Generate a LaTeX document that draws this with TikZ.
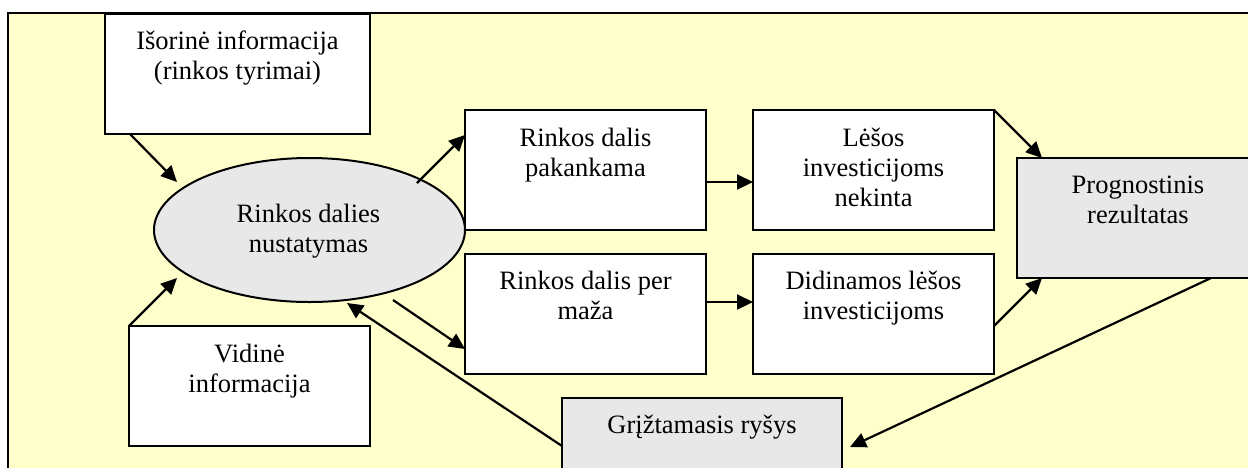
\documentclass[tikz,border=0pt]{standalone}
\usepackage{fontspec}
\setmainfont{Liberation Serif}
\usetikzlibrary{arrows.meta,calc,shapes.geometric}
\definecolor{paper}{HTML}{FFFFCC}
\definecolor{shade}{HTML}{E8E8E8}
% centred multi-line caption whose reference point is the first baseline
\newcommand\boxtxt[1]{\parbox[t]{270pt}{\centering #1}}

\begin{document}
\begin{tikzpicture}[x=1pt,y=-1pt,
  stepbox/.style={draw, line width=2pt, fill=white, minimum width=241pt,
    minimum height=120pt, anchor=north west, inner sep=0pt, outer sep=0pt},
  greybox/.style={stepbox, fill=shade},
  caption/.style={anchor=base, inner sep=0pt,
    font=\fontsize{26.5}{30}\selectfont},
  conn/.style={line width=2.2pt, -{Triangle[length=16pt,width=15pt]}}
]
\useasboundingbox (0,0) rectangle (1248,467);
\clip (0,0) rectangle (1248,467);

% page background and frame
\fill[paper] (8,13) rectangle (1270,490);
\draw[line width=2.5pt] (8,490) -- (8,13) -- (1270,13);

% boxes
\node[stepbox, minimum width=265pt] (isor) at (105,14) {};
\node[stepbox] (vid) at (129,326) {};
\node[ellipse, draw, line width=2pt, fill=shade, minimum width=311pt,
  minimum height=144pt, inner sep=0pt, outer sep=0pt] (ell) at (309.5,230) {};
\node[stepbox] (pak) at (465,110) {};
\node[stepbox] (maz) at (465,254) {};
\node[stepbox] (les) at (753,110) {};
\node[stepbox] (did) at (753,254) {};
\node[greybox, minimum width=242pt] (prog) at (1017,158) {};
\node[greybox, minimum width=280pt] (grz) at (562,398) {};

% captions
\node[caption] (isort) at ($(isor.north)+(0,35)$) {\boxtxt{Išorinė informacija\\(rinkos tyrimai)}};
\node[caption] (vidt) at ($(vid.north)+(0,36)$) {\boxtxt{Vidinė\\informacija}};
\node[caption] (ellt) at ($(ell.center)+(-1,-8)$) {\boxtxt{Rinkos dalies\\nustatymas}};
\node[caption] (pakt) at ($(pak.north)+(0,36)$) {\boxtxt{Rinkos dalis\\pakankama}};
\node[caption] (mazt) at ($(maz.north)+(0,35)$) {\boxtxt{Rinkos dalis per\\maža}};
\node[caption] (lest) at ($(les.north)+(0,36)$) {\boxtxt{Lėšos\\investicijoms\\nekinta}};
\node[caption] (didt) at ($(did.north)+(0,35)$) {\boxtxt{Didinamos lėšos\\investicijoms}};
\node[caption] (progt) at ($(prog.north)+(0,35)$) {\boxtxt{Prognostinis\\rezultatas}};
\node[caption] (grzt) at ($(grz.north)+(0,35)$) {\boxtxt{Grįžtamasis ryšys}};

% connectors
\draw[conn] ($(isor.south west)+(25,0)$) -- ($(ell.center)+(-132.5,-48)$);
\draw[conn] (vid.north west) -- ($(ell.center)+(-132.5,48)$);
\draw[conn] ($(ell.center)+(107.5,-47)$) -- ($(pak.north west)+(0,25)$);
\draw[conn] ($(ell.center)+(83.5,70)$) -- ($(maz.south west)+(0,-25)$);
\draw[conn] ($(pak.east)+(0,12)$) -- ($(les.west)+(0,12)$);
\draw[conn] ($(maz.east)+(0,-12)$) -- ($(did.west)+(0,-12)$);
\draw[conn] (les.north east) -- ($(prog.north west)+(25,0)$);
\draw[conn] ($(did.north east)+(0,72)$) -- ($(prog.south west)+(25,0)$);
\draw[conn] ($(prog.south west)+(194,0)$) -- ($(grz.north east)+(8,49)$);
\draw[conn] ($(grz.north west)+(0,48)$) -- ($(ell.center)+(37.5,73)$);
\end{tikzpicture}
\end{document}
